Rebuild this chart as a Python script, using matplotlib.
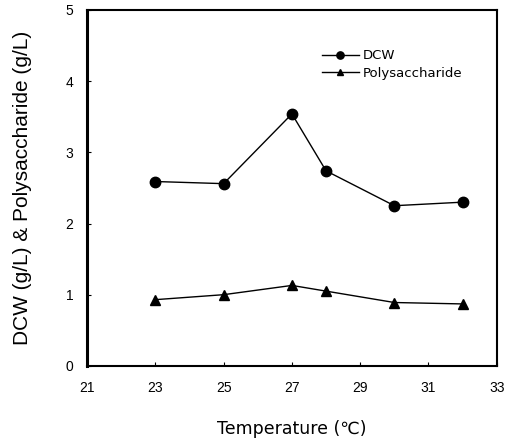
import matplotlib
matplotlib.use("Agg")
from matplotlib import pyplot as plt

temperature = [23, 25, 27, 28, 30, 32]
dcw = [2.59, 2.56, 3.54, 2.74, 2.25, 2.30]
polysaccharide = [0.93, 1.00, 1.13, 1.05, 0.89, 0.87]

x_ticks = [21, 23, 25, 27, 29, 31, 33]
y_ticks = [0, 1, 2, 3, 4, 5]

plt.rcParams['font.family'] = ['Liberation Sans', 'DejaVu Sans']

fig = plt.figure(figsize=(5.09, 4.44), dpi=100)
ax = fig.add_axes([0.171, 0.176, 0.805, 0.8015])

ax.plot(temperature, dcw, color='black', lw=1, marker='o', markersize=7.5, label='DCW')
ax.plot(temperature, polysaccharide, color='black', lw=1, marker='^', markersize=7, label='Polysaccharide')

ax.set_xlim(21, 33)
ax.set_ylim(0, 5)
ax.set_xticks(x_ticks)
ax.set_yticks(y_ticks)
ax.tick_params(direction='in', length=3, width=0.8, labelsize=10)
ax.tick_params(axis='x', pad=11)
ax.tick_params(axis='y', pad=10)

for side in ['top', 'right', 'bottom']:
    ax.spines[side].set_linewidth(1.5)
ax.spines['left'].set_linewidth(2.2)

ax.set_xlabel('Temperature (℃)', fontsize=12.5, family=['DejaVu Sans'], labelpad=18)
ax.set_ylabel('DCW (g/L) & Polysaccharide (g/L)', fontsize=15, labelpad=24)

leg = ax.legend(loc='upper left', bbox_to_anchor=(0.573, 0.89), frameon=False,
                borderpad=0, borderaxespad=0, handlelength=2.8, handletextpad=0.3,
                labelspacing=0.35, markerscale=0.7,
                prop={'family': 'DejaVu Sans', 'size': 9.5})

fig.savefig('out.png', dpi=100)
